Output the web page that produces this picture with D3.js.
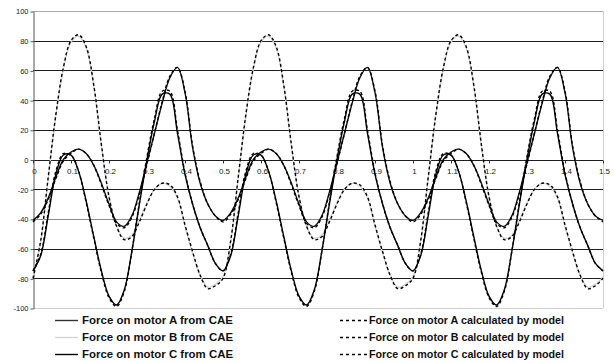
<!DOCTYPE html>
<html>
<head>
<meta charset="utf-8">
<script src="https://cdn.jsdelivr.net/npm/d3@7"></script>
<style>
  body { margin: 0; background: #fff; }
  svg { display: block; font-family: "Liberation Sans", Arial, sans-serif; }
</style>
</head>
<body>
<div id="vis"></div>
<script>
// sample positions along the x axis (seconds)
let xValues = [
  0, 0.02, 0.04, 0.06, 0.08, 0.1, 0.12, 0.14, 0.16, 0.18, 0.2, 0.22, 0.24, 0.26, 0.28, 0.3, 0.32, 0.34, 0.36, 0.38, 0.4, 0.42, 0.44, 0.46, 0.48,
  0.5, 0.52, 0.54, 0.56, 0.58, 0.6, 0.62, 0.64, 0.66, 0.68, 0.7, 0.72, 0.74, 0.76, 0.78, 0.8, 0.82, 0.84, 0.86, 0.88, 0.9, 0.92, 0.94, 0.96, 0.98,
  1, 1.02, 1.04, 1.06, 1.08, 1.1, 1.12, 1.14, 1.16, 1.18, 1.2, 1.22, 1.24, 1.26, 1.28, 1.3, 1.32, 1.34, 1.36, 1.38, 1.4, 1.42, 1.44, 1.46, 1.48,
  1.5
];

// force on motor A from CAE
let forceA = [
  -41, -36, -26, -12, 0, 5, 7, 4, -4, -16, -30, -42, -45, -38, -22, -2, 18, 38, 55, 62, 45, 8, -16, -30, -38,
  -41, -36, -26, -12, 0, 5, 7, 4, -4, -16, -30, -42, -45, -38, -22, -2, 18, 38, 55, 62, 45, 8, -16, -30, -38,
  -41, -36, -26, -12, 0, 5, 7, 4, -4, -16, -30, -42, -45, -38, -22, -2, 18, 38, 55, 62, 45, 8, -16, -30, -38,
  -41
];

// force on motor B from CAE
let forceB = [
  -79, -56, -13, 29, 61, 79, 83, 75, 49, 9, -25, -45, -53, -51, -41, -29, -20, -16, -18, -26, -45, -63, -78, -86, -84,
  -79, -56, -13, 29, 61, 79, 83, 75, 49, 9, -25, -45, -53, -51, -41, -29, -20, -16, -18, -26, -45, -63, -78, -86, -84,
  -79, -56, -13, 29, 61, 79, 83, 75, 49, 9, -25, -45, -53, -51, -41, -29, -20, -16, -18, -26, -45, -63, -78, -86, -84,
  -79
];

// force on motor C from CAE
let forceC = [
  -75, -65, -38, -10, 3, 3, -8, -28, -52, -75, -92, -98, -88, -62, -30, 0, 26, 44, 44, 18, -10, -30, -46, -58, -70,
  -75, -65, -38, -10, 3, 3, -8, -28, -52, -75, -92, -98, -88, -62, -30, 0, 26, 44, 44, 18, -10, -30, -46, -58, -70,
  -75, -65, -38, -10, 3, 3, -8, -28, -52, -75, -92, -98, -88, -62, -30, 0, 26, 44, 44, 18, -10, -30, -46, -58, -70,
  -75
];

// force on motor A calculated by model
let modelA = [
  -42, -37, -27, -13, -1, 4, 7, 4, -4, -17, -31, -43, -46, -39, -23, -3, 18, 39, 56, 62, 46, 9, -15, -30, -38,
  -42, -37, -27, -13, -1, 4, 7, 4, -4, -17, -31, -43, -46, -39, -23, -3, 18, 39, 56, 62, 46, 9, -15, -30, -38,
  -42, -37, -27, -13, -1, 4, 7, 4, -4, -17, -31, -43, -46, -39, -23, -3, 18, 39, 56, 62, 46, 9, -15, -30, -38,
  -42
];

// force on motor B calculated by model
let modelB = [
  -80, -55, -12, 30, 62, 80, 84, 76, 50, 10, -25, -45, -54, -52, -42, -30, -20, -16, -17, -25, -44, -62, -78, -87, -85,
  -80, -55, -12, 30, 62, 80, 84, 76, 50, 10, -25, -45, -54, -52, -42, -30, -20, -16, -17, -25, -44, -62, -78, -87, -85,
  -80, -55, -12, 30, 62, 80, 84, 76, 50, 10, -25, -45, -54, -52, -42, -30, -20, -16, -17, -25, -44, -62, -78, -87, -85,
  -80
];

// force on motor C calculated by model
let modelC = [
  -75, -64, -36, -8, 4, 3, -8, -29, -53, -76, -93, -99, -89, -62, -29, 2, 28, 46, 46, 20, -9, -30, -46, -58, -70,
  -75, -64, -36, -8, 4, 3, -8, -29, -53, -76, -93, -99, -89, -62, -29, 2, 28, 46, 46, 20, -9, -30, -46, -58, -70,
  -75, -64, -36, -8, 4, 3, -8, -29, -53, -76, -93, -99, -89, -62, -29, 2, 28, 46, 46, 20, -9, -30, -46, -58, -70,
  -75
];

let xTicks = [0, 0.1, 0.2, 0.3, 0.4, 0.5, 0.6, 0.7, 0.8, 0.9, 1, 1.1, 1.2, 1.3, 1.4, 1.5];
let xTickLabels = ['0', '0.1', '0.2', '0.3', '0.4', '0.5', '0.6', '0.7', '0.8', '0.9', '1', '1.1', '1.2', '1.3', '1.4', '1.5'];
let yTicks = [100, 80, 60, 40, 20, 0, -20, -40, -60, -80, -100];
let yTickLabels = ['100', '80', '60', '40', '20', '0', '-20', '-40', '-60', '-80', '-100'];

let seriesNames = [
  'Force on motor A from CAE',
  'Force on motor B from CAE',
  'Force on motor C from CAE',
  'Force on motor A calculated by model',
  'Force on motor B calculated by model',
  'Force on motor C calculated by model'
];

// constants for the size of the vis area
let width = 614;
let height = 362;
let plot = { left: 33, right: 603, top: 11, bottom: 308 };

let svg = d3.select('#vis').append('svg')
  .attr('width', width)
  .attr('height', height);

let xScale = d3.scaleLinear()
  .domain([0, 1.5])
  .range([plot.left, plot.right]);

let yScale = d3.scaleLinear()
  .domain([-100, 100])
  .range([plot.bottom, plot.top]);

// horizontal grid lines
let gridColor = function (v) {
  if (v === 100) return '#a8a8a8';
  if (v === -100) return '#cfcfcf';
  if (v === -40) return '#8a8a8a';
  return '#1e1e1e';
};
svg.append('g')
  .attr('class', 'grid')
  .selectAll('line')
  .data(yTicks)
  .join('line')
  .attr('x1', plot.left)
  .attr('x2', plot.right)
  .attr('y1', d => Math.round(yScale(d)) + 0.5)
  .attr('y2', d => Math.round(yScale(d)) + 0.5)
  .attr('stroke', gridColor)
  .attr('stroke-width', 1);

// right border of plot area
svg.append('line')
  .attr('x1', plot.right + 0.5).attr('x2', plot.right + 0.5)
  .attr('y1', plot.top).attr('y2', plot.bottom)
  .attr('stroke', '#d0d0d0');

// y axis on the left
let yAxis = d3.axisLeft(yScale)
  .tickValues(yTicks)
  .tickFormat((d, i) => yTickLabels[i])
  .tickSize(3)
  .tickSizeOuter(0);
let yAxisG = svg.append('g')
  .attr('class', 'y axis')
  .attr('transform', 'translate(' + (plot.left + 0.5) + ',0.5)')
  .call(yAxis);
yAxisG.select('.domain').attr('stroke', '#555');
yAxisG.selectAll('.tick line').attr('stroke', '#555');
yAxisG.selectAll('.tick text')
  .attr('x', -5)
  .attr('font-size', 7.5)
  .attr('font-family', '"Liberation Sans", Arial, sans-serif')
  .attr('fill', '#222');

// x axis crossing at zero
let xAxis = d3.axisBottom(xScale)
  .tickValues(xTicks)
  .tickFormat((d, i) => xTickLabels[i])
  .tickSize(3)
  .tickSizeOuter(0);
let xAxisG = svg.append('g')
  .attr('class', 'x axis')
  .attr('transform', 'translate(0,' + (Math.round(yScale(0)) + 0.5) + ')')
  .call(xAxis);
xAxisG.select('.domain').remove();
xAxisG.selectAll('.tick line').attr('stroke', '#333');
xAxisG.selectAll('.tick text')
  .attr('y', 8)
  .attr('dx', 1)
  .attr('font-size', 8)
  .attr('font-family', '"Liberation Sans", Arial, sans-serif')
  .attr('fill', '#222');

// line series
let series = [
  { name: seriesNames[1], values: forceB, color: '#cfcfcf', dash: null, w: 1.3 },
  { name: seriesNames[0], values: forceA, color: '#111', dash: null, w: 1.4 },
  { name: seriesNames[2], values: forceC, color: '#000', dash: null, w: 1.4 },
  { name: seriesNames[3], values: modelA, color: '#000', dash: '3,2.5', w: 1.4 },
  { name: seriesNames[4], values: modelB, color: '#000', dash: '3,2.5', w: 1.4 },
  { name: seriesNames[5], values: modelC, color: '#000', dash: '3,2.5', w: 1.4 }
];

let line = d3.line()
  .curve(d3.curveCatmullRom.alpha(0.5))
  .x((d, i) => xScale(xValues[i]))
  .y(d => yScale(d));

svg.append('g')
  .attr('class', 'lines')
  .selectAll('path')
  .data(series)
  .join('path')
  .attr('d', d => line(d.values))
  .attr('fill', 'none')
  .attr('stroke', d => d.color)
  .attr('stroke-width', d => d.w)
  .attr('stroke-dasharray', d => d.dash);

// legend, two columns of three rows
let legendItems = [
  { name: seriesNames[0], color: '#333', dash: null, col: 0, row: 0 },
  { name: seriesNames[1], color: '#d4d4d4', dash: null, col: 0, row: 1 },
  { name: seriesNames[2], color: '#000', dash: null, col: 0, row: 2 },
  { name: seriesNames[3], color: '#000', dash: '3,3', col: 1, row: 0 },
  { name: seriesNames[4], color: '#000', dash: '3,3', col: 1, row: 1 },
  { name: seriesNames[5], color: '#000', dash: '3,3', col: 1, row: 2 }
];
let colX = [55, 340];
let colTextLen = [151, 195];
let rowY = [320, 337, 354];

let legend = svg.append('g').attr('class', 'legend');
let item = legend.selectAll('g')
  .data(legendItems)
  .join('g')
  .attr('transform', d => 'translate(' + colX[d.col] + ',' + rowY[d.row] + ')');
item.append('line')
  .attr('x1', 0).attr('x2', d => d.col === 0 ? 23 : 27)
  .attr('y1', 0.5).attr('y2', 0.5)
  .attr('stroke', d => d.color)
  .attr('stroke-width', 1.4)
  .attr('stroke-dasharray', d => d.dash);
item.append('text')
  .attr('x', d => d.col === 0 ? 27 : 29)
  .attr('y', 4)
  .attr('font-size', 11)
  .attr('font-weight', 'bold')
  .attr('textLength', d => colTextLen[d.col])
  .attr('lengthAdjust', 'spacingAndGlyphs')
  .attr('fill', '#111')
  .text(d => d.name);
</script>
</body>
</html>
